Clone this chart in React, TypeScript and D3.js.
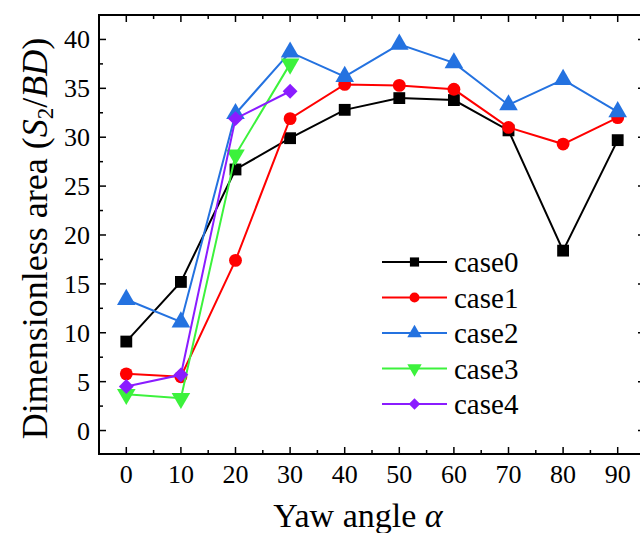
import React, { useEffect, useRef } from 'react';
import * as d3 from 'd3';

const W = 640, H = 533;
const margin = { left: 99, right: -5, top: 15, bottom: 79 };

const angles = [0, 10, 20, 30, 40, 50, 60, 70, 80, 90];
const case0 = [9.1, 15.2, 26.7, 29.9, 32.8, 34.0, 33.8, 30.7, 18.4, 29.7];
const case1 = [5.8, 5.5, 17.4, 31.9, 35.4, 35.3, 34.9, 31.0, 29.3, 32.0];
const case2 = [13.4, 11.1, 32.4, 38.7, 36.2, 39.5, 37.6, 33.3, 35.9, 32.6];
const case3 = [3.7, 3.3, 28.2, 37.5];
const case4 = [4.5, 5.7, 31.9, 34.7];

const seriesNames = ['case0', 'case1', 'case2', 'case3', 'case4'];
const seriesValues = [case0, case1, case2, case3, case4];
const colors = ['#000000', '#ff0000', '#2472e0', '#3cf23c', '#8a1cff'];
// case4 diamond = square turned 45 degrees
const symbols = [d3.symbolSquare, d3.symbolCircle, d3.symbolTriangle, d3.symbolTriangle, d3.symbolSquare];
const symSizes = [140, 130, 150, 150, 110];
const rotations = [0, 0, 0, 180, 45];

const xTicks = [0, 10, 20, 30, 40, 50, 60, 70, 80, 90];
const yTicks = [0, 5, 10, 15, 20, 25, 30, 35, 40];

const font = '"Liberation Serif", "Times New Roman", serif';

export default function App() {
  const ref = useRef<SVGSVGElement>(null);

  useEffect(() => {
    const svg = d3.select(ref.current);
    svg.selectAll('*').remove();

    const x = d3.scaleLinear().domain([-5, 95]).range([margin.left, W - margin.right]);
    const y = d3.scaleLinear().domain([-2.4, 42.5]).range([H - margin.bottom, margin.top]);

    const x0 = margin.left, x1 = W - margin.right;
    const y0 = H - margin.bottom, y1 = margin.top;

    // frame
    svg.append('rect')
      .attr('x', x0).attr('y', y1)
      .attr('width', x1 - x0).attr('height', y0 - y1)
      .attr('fill', 'none').attr('stroke', '#000').attr('stroke-width', 2);

    const g = svg.append('g').attr('stroke', '#000').attr('stroke-width', 1.5);
    const minorX = d3.range(-5, 96, 5).filter(d => d % 10 !== 0 && d > -5 && d < 95);
    const minorY = d3.range(-2.5, 42.6, 2.5).filter(d => d % 5 !== 0 && d > -2.4);

    // x ticks, bottom and top (inward)
    xTicks.forEach(d => {
      g.append('line').attr('x1', x(d)).attr('x2', x(d)).attr('y1', y0).attr('y2', y0 - 7);
      g.append('line').attr('x1', x(d)).attr('x2', x(d)).attr('y1', y1).attr('y2', y1 + 7);
    });
    minorX.forEach(d => {
      g.append('line').attr('x1', x(d)).attr('x2', x(d)).attr('y1', y0).attr('y2', y0 - 4);
      g.append('line').attr('x1', x(d)).attr('x2', x(d)).attr('y1', y1).attr('y2', y1 + 4);
    });
    // y ticks, left and right (inward)
    yTicks.forEach(d => {
      g.append('line').attr('x1', x0).attr('x2', x0 + 7).attr('y1', y(d)).attr('y2', y(d));
      g.append('line').attr('x1', x1).attr('x2', x1 - 7).attr('y1', y(d)).attr('y2', y(d));
    });
    minorY.forEach(d => {
      g.append('line').attr('x1', x0).attr('x2', x0 + 4).attr('y1', y(d)).attr('y2', y(d));
      g.append('line').attr('x1', x1).attr('x2', x1 - 4).attr('y1', y(d)).attr('y2', y(d));
    });

    // tick labels
    svg.selectAll('.xl').data(xTicks).enter().append('text')
      .attr('x', d => x(d)).attr('y', y0 + 29)
      .attr('text-anchor', 'middle')
      .attr('font-family', font).attr('font-size', 26)
      .text(d => d);
    svg.selectAll('.yl').data(yTicks).enter().append('text')
      .attr('x', x0 - 9).attr('y', d => y(d) + 9)
      .attr('text-anchor', 'end')
      .attr('font-family', font).attr('font-size', 26)
      .text(d => d);

    // axis titles
    svg.append('text')
      .attr('x', 358).attr('y', 527)
      .attr('text-anchor', 'middle')
      .attr('font-family', font).attr('font-size', 34)
      .html('Yaw angle <tspan font-style="italic">α</tspan>');

    const yt = svg.append('text')
      .attr('transform', `translate(47, ${(y0 + y1) / 2 + 4}) rotate(-90)`)
      .attr('text-anchor', 'middle')
      .attr('font-family', font).attr('font-size', 36);
    yt.append('tspan').text('Dimensionless area (');
    yt.append('tspan').attr('font-style', 'italic').text('S');
    yt.append('tspan').attr('font-size', 23).attr('dy', 6).text('2');
    yt.append('tspan').attr('dy', -6).text('/');
    yt.append('tspan').attr('font-style', 'italic').text('BD');
    yt.append('tspan').text(')');

    // series
    const line = d3.line<number>().x((d, i) => x(angles[i])).y(d => y(d));
    seriesValues.forEach((vals, si) => {
      svg.append('path').datum(vals)
        .attr('d', line)
        .attr('fill', 'none')
        .attr('stroke', colors[si]).attr('stroke-width', 2);
      const sym = d3.symbol().type(symbols[si]).size(symSizes[si]);
      svg.selectAll(`.m${si}`).data(vals).enter().append('path')
        .attr('d', sym)
        .attr('transform', (d, i) => `translate(${x(angles[i])},${y(d)}) rotate(${rotations[si]})`)
        .attr('fill', colors[si]);
    });

    // legend
    const lx = 382, ly = 262, step = 35.5;
    seriesNames.forEach((name, si) => {
      const yy = ly + si * step;
      svg.append('line')
        .attr('x1', lx).attr('x2', lx + 65).attr('y1', yy).attr('y2', yy)
        .attr('stroke', colors[si]).attr('stroke-width', 2);
      svg.append('path')
        .attr('d', d3.symbol().type(symbols[si]).size(symSizes[si] * 0.6)())
        .attr('transform', `translate(${lx + 32.5},${yy}) rotate(${rotations[si]})`)
        .attr('fill', colors[si]);
      svg.append('text')
        .attr('x', lx + 72).attr('y', yy + 10)
        .attr('font-family', font).attr('font-size', 29)
        .text(name);
    });
  }, []);

  return (
    <svg ref={ref} width={W} height={H}
      style={{ position: 'absolute', left: 0, top: 0, background: '#fff' }} />
  );
}
